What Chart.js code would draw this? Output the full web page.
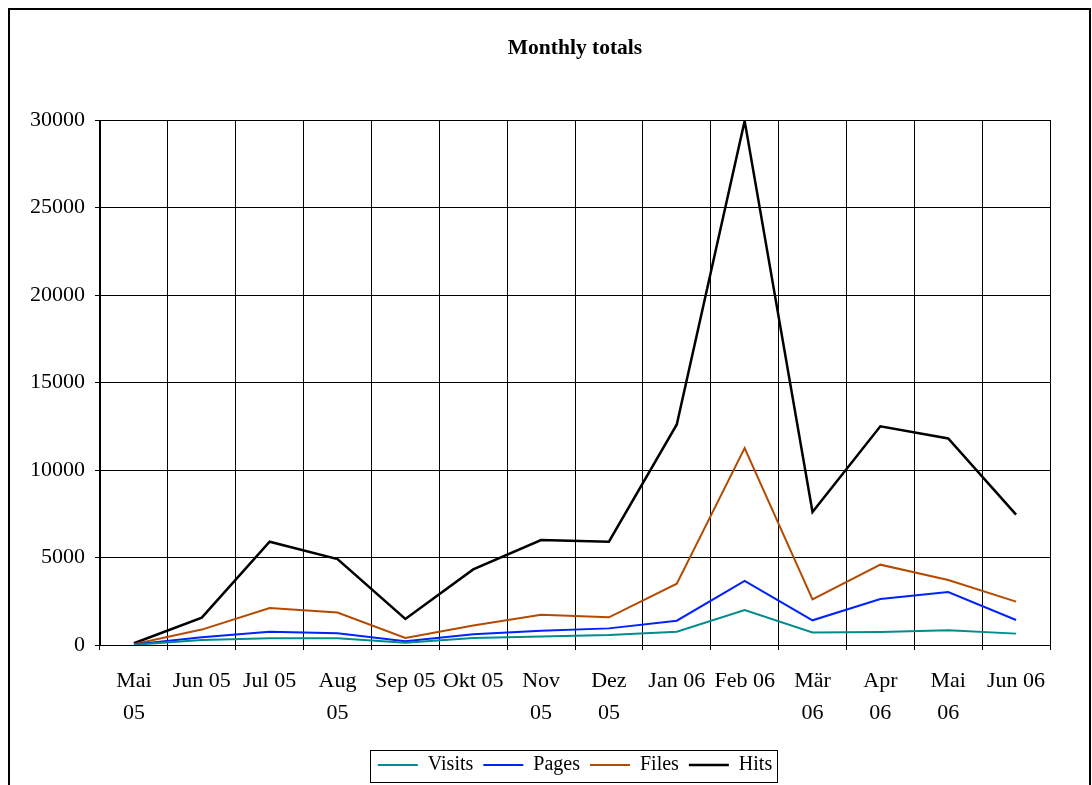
<!DOCTYPE html>
<html>
<head>
<meta charset="utf-8">
<script src="https://cdn.jsdelivr.net/npm/chart.js@4/dist/chart.umd.min.js"></script>
<style>
html,body{margin:0;padding:0;background:#fff;}
#wrap{width:1092px;height:785px;position:relative;overflow:hidden;}
canvas{display:block;}
</style>
</head>
<body>
<div id="wrap"><canvas id="c" width="1092" height="785"></canvas></div>
<script>
const categories = [['Mai','05'],'Jun 05','Jul 05',['Aug','05'],'Sep 05','Okt 05',['Nov','05'],['Dez','05'],'Jan 06','Feb 06',['Mär','06'],['Apr','06'],['Mai','06'],'Jun 06'];
const visits = [10, 290, 380, 380, 130, 400, 480, 570, 760, 2000, 720, 740, 840, 650];
const pages  = [30, 440, 760, 670, 210, 610, 820, 950, 1390, 3660, 1410, 2630, 3030, 1430];
const files  = [50, 880, 2110, 1860, 400, 1120, 1730, 1580, 3500, 11250, 2610, 4590, 3710, 2480];
const hits   = [100, 1560, 5900, 4910, 1490, 4320, 6000, 5900, 12600, 29950, 7600, 12500, 11800, 7450];
const seriesNames = ['Visits','Pages','Files','Hits'];
const yTicks = [0, 5000, 10000, 15000, 20000, 25000, 30000];

const FONT = "'Liberation Serif', 'Times New Roman', serif";
Chart.defaults.color = '#000';
Chart.defaults.font.family = FONT;

const frame = {
  id: 'frame',
  afterDraw(chart) {
    const ctx = chart.ctx;
    ctx.save();
    ctx.strokeStyle = '#000';
    ctx.lineWidth = 2;
    ctx.strokeRect(9, 9, 1081, 820);
    const lg = chart.legend;
    if (lg && lg.legendHitBoxes && lg.legendHitBoxes.length) {
      let l = Infinity, r = -Infinity, t = Infinity, b = -Infinity;
      lg.legendHitBoxes.forEach(h => {
        l = Math.min(l, h.left); r = Math.max(r, h.left + h.width);
        t = Math.min(t, h.top); b = Math.max(b, h.top + h.height);
      });
      ctx.lineWidth = 1;
      ctx.strokeRect(Math.round(l - 8) + 0.5, Math.round(t - 5) + 0.5, Math.round(r - l + 13), Math.round(b - t + 12));
    }
    ctx.restore();
  }
};

const colors = ['#008C8C', '#0022FF', '#B44A00', '#000000'];
const widths = [2, 2, 2, 2.5];
const dataSets = [visits, pages, files, hits];

new Chart(document.getElementById('c'), {
  type: 'line',
  data: {
    labels: categories,
    datasets: seriesNames.map((n, i) => ({
      label: n,
      data: dataSets[i],
      borderColor: colors[i],
      backgroundColor: colors[i],
      borderWidth: widths[i],
      pointRadius: 0,
      tension: 0,
      fill: false
    }))
  },
  options: {
    responsive: false,
    animation: false,
    devicePixelRatio: 1,
    layout: { padding: { left: 0, right: 42, top: 0, bottom: 0 } },
    plugins: {
      title: {
        display: true,
        text: 'Monthly totals',
        fullSize: false,
        font: { family: FONT, size: 21.5, weight: 'bold' },
        color: '#000',
        padding: { top: 36, bottom: 58.2 }
      },
      legend: {
        display: true,
        position: 'bottom',
        fullSize: false,
        labels: {
          usePointStyle: true,
          pointStyle: 'line',
          pointStyleWidth: 40,
          padding: 10,
          color: '#000',
          font: { family: FONT, size: 20 }
        }
      },
      tooltip: { enabled: false }
    },
    scales: {
      x: {
        offset: true,
        grid: { offset: true, color: '#000', lineWidth: 1, tickLength: 5, drawTicks: true },
        border: { color: '#000', width: 1 },
        ticks: {
          autoSkip: false, maxRotation: 0, minRotation: 0,
          padding: 15,
          color: '#000',
          font: { family: FONT, size: 22, lineHeight: 1.4545 }
        },
        afterFit(s) { s.height = 100; }
      },
      y: {
        min: 0, max: 30000,
        afterBuildTicks(s) { s.ticks = yTicks.map(v => ({ value: v })); },
        grid: { color: '#000', lineWidth: 1, tickLength: 5 },
        border: { color: '#000', width: 1 },
        ticks: {
          padding: 10,
          color: '#000',
          font: { family: FONT, size: 22 },
          callback: v => String(v)
        },
        afterFit(s) { s.width = 100; }
      }
    }
  },
  plugins: [frame]
});
</script>
</body>
</html>
